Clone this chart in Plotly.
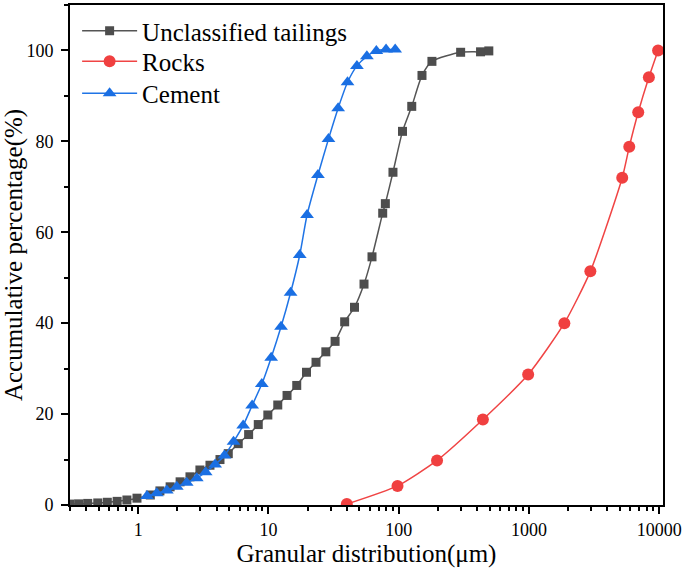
import plotly.graph_objects as go

# particle size (um) and cumulative passing (%)
tail_x = [0.3, 0.35, 0.41, 0.49, 0.58, 0.69, 0.82, 0.98, 1.24, 1.47, 1.76, 2.1, 2.5, 2.98,
          3.56, 4.25, 4.92, 5.87, 7.05, 8.36, 9.9, 11.8, 13.9, 16.5, 19.6, 23.2, 27.6,
          32.5, 38.5, 45.8, 54.2, 62.4, 75.4, 79, 90.4, 107, 126, 151, 180, 299, 425, 492]
tail_y = [0.2, 0.25, 0.35, 0.45, 0.6, 0.8, 1.1, 1.5, 2.2, 3.1, 4.0, 5.1, 6.2, 7.7,
          8.75, 10.0, 11.3, 13.5, 15.5, 17.7, 19.8, 22.0, 24.1, 26.3, 29.2, 31.4, 33.7,
          36.0, 40.3, 43.5, 48.6, 54.6, 64.2, 66.3, 73.2, 82.2, 87.7, 94.5, 97.6, 99.6, 99.7, 99.9]

rock_x = [40, 98, 197, 443, 986, 1870, 2960, 5200, 5890, 6900, 8330, 9800]
rock_y = [0.2, 4.2, 9.8, 18.8, 28.7, 40.0, 51.4, 72.0, 78.8, 86.4, 94.1, 100]

cem_x = [1.17, 1.39, 1.66, 1.98, 2.36, 2.82, 3.3, 3.9, 4.6, 5.4, 6.4, 7.5, 8.9, 10.5,
         12.5, 14.8, 17.4, 19.8, 24.0, 28.9, 34.3, 40.5, 47.8, 57.0, 67.4, 80.0, 94.0]
cem_y = [2.0, 2.6, 3.2, 4.0, 4.9, 5.9, 7.2, 8.9, 10.9, 13.9, 17.5, 21.9, 26.6, 32.4,
         39.2, 46.7, 55.0, 63.8, 72.6, 80.5, 87.3, 93.0, 96.6, 98.7, 99.9, 100.2, 100.2]

x_tickvals = [1, 10, 100, 1000, 10000]
x_ticktext = ["1", "10", "100", "1000", "10000"]

font = "Liberation Serif, Times New Roman, serif"

fig = go.Figure()
fig.add_trace(go.Scatter(x=tail_x, y=tail_y, name="Unclassified tailings", mode="lines+markers",
                         line=dict(color="#555555", width=1.5, shape="spline", smoothing=0.6),
                         marker=dict(symbol="square", size=9, color="#4d4d4d"), legend="legend"))
fig.add_trace(go.Scatter(x=rock_x, y=rock_y, name="Rocks", mode="lines+markers",
                         line=dict(color="#f04444", width=1.5, shape="spline", smoothing=0.6),
                         marker=dict(symbol="circle", size=12, color="#f04040"), legend="legend2"))
fig.add_trace(go.Scatter(x=cem_x, y=cem_y, name="Cement", mode="lines+markers",
                         line=dict(color="#1f74e6", width=1.5, shape="spline", smoothing=0.6),
                         marker=dict(symbol="triangle-up", size=12, color="#1a6fe3"), legend="legend3"))

fig.update_xaxes(type="log", range=[-0.523, 4.029], tickvals=x_tickvals, ticktext=x_ticktext,
                 showline=True, linecolor="black", linewidth=2, mirror=True,
                 ticks="outside", ticklen=7, tickwidth=1.5, tickcolor="black",
                 minor=dict(ticks="outside", ticklen=4, tickwidth=1.5, tickcolor="black", dtick="D1", showgrid=False),
                 showgrid=False, zeroline=False,
                 tickfont=dict(family=font, size=18, color="black"),
                 title=dict(text="Granular distribution(μm)", font=dict(family=font, size=25, color="black"), standoff=4))
fig.update_yaxes(range=[0, 110], dtick=20,
                 showline=True, linecolor="black", linewidth=2, mirror=True,
                 ticks="outside", ticklen=7, tickwidth=1.5, tickcolor="black",
                 minor=dict(ticks="outside", ticklen=4, tickwidth=1.5, tickcolor="black", dtick=10, showgrid=False),
                 showgrid=False, zeroline=False, ticklabelstandoff=4,
                 tickfont=dict(family=font, size=18, color="black"),
                 title=dict(text="Accumulative percentage(%)", font=dict(family=font, size=25, color="black"), standoff=4))

leg = dict(x=0.012, xanchor="left", yanchor="middle", bgcolor="rgba(0,0,0,0)",
           font=dict(family=font, size=25, color="black"), itemwidth=55)
fig.update_layout(width=685, height=574, plot_bgcolor="white", paper_bgcolor="white",
                  margin=dict(l=70, r=21, t=3, b=69),
                  showlegend=True,
                  legend=dict(leg, y=0.948),
                  legend2=dict(leg, y=0.887),
                  legend3=dict(leg, y=0.823))

fig.write_html("out.html", config={"displayModeBar": False},
               post_script="document.body.style.margin='0';")
